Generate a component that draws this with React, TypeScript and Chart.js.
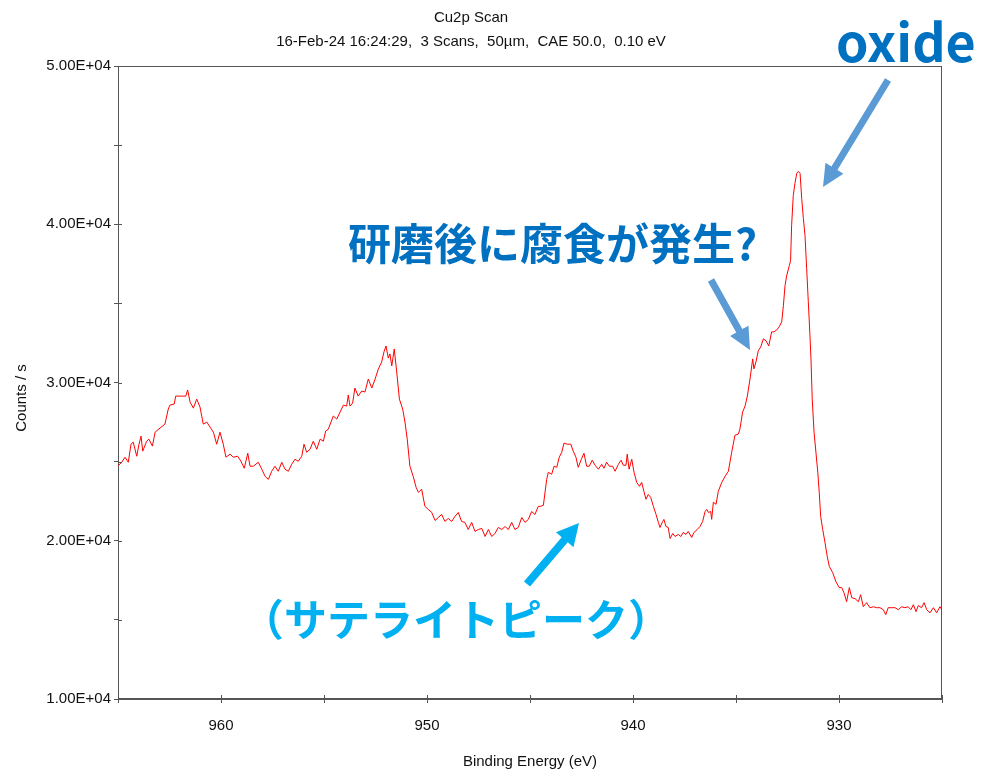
import React, { useEffect, useRef } from 'react';
import { Chart, registerables } from 'chart.js';
Chart.register(...registerables);

// Binding energy (eV)
const energies = [
  965.00, 964.82, 964.66, 964.50, 964.37, 964.26, 964.09, 963.98, 963.88, 963.80,
  963.61, 963.50, 963.33, 963.20, 962.96, 962.72, 962.56, 962.48, 962.27, 962.20,
  961.91, 961.71, 961.62, 961.50, 961.34, 961.18, 961.02, 960.86, 960.69, 960.53,
  960.37, 960.21, 960.05, 959.89, 959.76, 959.56, 959.40, 959.19, 959.03, 958.87,
  958.70, 958.59, 958.43, 958.19, 958.02, 957.86, 957.70, 957.54, 957.38, 957.22,
  957.05, 956.89, 956.73, 956.57, 956.41, 956.25, 956.08, 955.97, 955.84, 955.68,
  955.52, 955.35, 955.19, 955.03, 954.92, 954.79, 954.55, 954.38, 954.22, 954.06,
  953.90, 953.82, 953.74, 953.61, 953.50, 953.34, 953.17, 953.01, 952.85, 952.68,
  952.52, 952.36, 952.20, 952.09, 951.99, 951.88, 951.80, 951.71, 951.59, 951.47,
  951.34, 951.18, 951.07, 950.96, 950.83, 950.67, 950.53, 950.42, 950.26, 950.10,
  949.94, 949.77, 949.61, 949.45, 949.29, 949.13, 948.97, 948.80, 948.64, 948.48,
  948.32, 948.16, 948.00, 947.83, 947.67, 947.51, 947.34, 947.18, 947.02, 946.86,
  946.70, 946.54, 946.37, 946.21, 946.05, 945.89, 945.73, 945.57, 945.40, 945.24,
  945.08, 944.92, 944.76, 944.60, 944.51, 944.35, 944.19, 944.11, 943.95, 943.83,
  943.70, 943.58, 943.46, 943.35, 943.19, 943.02, 942.90, 942.77, 942.66, 942.49,
  942.38, 942.25, 942.12, 941.98, 941.84, 941.68, 941.52, 941.41, 941.28, 941.15,
  940.99, 940.87, 940.71, 940.58, 940.47, 940.34, 940.28, 940.19, 940.06, 939.95,
  939.82, 939.69, 939.58, 939.47, 939.37, 939.26, 939.14, 939.01, 938.88, 938.77,
  938.69, 938.56, 938.50, 938.40, 938.29, 938.20, 938.07, 937.96, 937.80, 937.68,
  937.56, 937.43, 937.32, 937.15, 937.04, 936.88, 936.75, 936.62, 936.50, 936.42,
  936.34, 936.23, 936.18, 936.10, 935.97, 935.86, 935.69, 935.53, 935.37, 935.21,
  935.05, 934.89, 934.81, 934.68, 934.56, 934.45, 934.32, 934.19, 934.13, 934.03,
  933.92, 933.80, 933.67, 933.54, 933.41, 933.27, 933.16, 933.02, 932.90, 932.78,
  932.70, 932.62, 932.54, 932.41, 932.35, 932.30, 932.22, 932.14, 932.05, 931.98,
  931.89, 931.81, 931.73, 931.65, 931.57, 931.49, 931.41, 931.36, 931.30, 931.21,
  931.12, 931.03, 930.96, 930.89, 930.79, 930.68, 930.57, 930.47, 930.31, 930.15,
  929.99, 929.87, 929.76, 929.63, 929.50, 929.38, 929.22, 929.06, 928.95, 928.82,
  928.66, 928.50, 928.33, 928.17, 928.01, 927.85, 927.73, 927.61, 927.44, 927.28,
  927.12, 926.96, 926.80, 926.64, 926.51, 926.39, 926.26, 926.15, 925.99, 925.87,
  925.74, 925.58, 925.42, 925.26, 925.10, 925.00,
];

// Counts / s
const counts = [
  24730, 24960, 25280, 24960, 26100, 26230, 25340, 26100, 26610, 25660,
  26290, 26420, 25980, 26860, 27120, 27370, 28320, 28570, 28640, 29140,
  29140, 29140, 29530, 28760, 28380, 28950, 28450, 27370, 27500, 27180,
  26860, 26100, 26860, 26100, 25280, 25470, 25280, 25340, 25020, 24580,
  25530, 24710, 24710, 24960, 24520, 24070, 23880, 24390, 24710, 24390,
  24960, 24520, 24390, 24830, 25150, 25020, 25340, 26100, 25590, 25780,
  26290, 25780, 26420, 26290, 26930, 27050, 27880, 27690, 28130, 28570,
  28510, 29210, 28510, 28700, 29650, 29140, 29460, 29400, 30220, 29650,
  30220, 30860, 31300, 31930, 32310, 31550, 31810, 31050, 32120, 30670,
  28950, 28320, 27500, 26420, 24710, 24070, 23380, 23060, 23250, 22170,
  21980, 21790, 21280, 21470, 21660, 21220, 21410, 21220, 21540, 21790,
  21220, 21160, 20710, 21160, 20590, 20710, 20780, 20270, 20710, 20270,
  20460, 20840, 20710, 20900, 20710, 21160, 20710, 20840, 21470, 21160,
  21350, 21850, 21660, 22170, 22170, 22240, 23880, 24330, 24200, 24710,
  24640, 25280, 25590, 26170, 26100, 26100, 25660, 25280, 24640, 25210,
  25530, 24710, 24710, 25090, 24770, 24520, 24830, 24580, 24960, 24710,
  24710, 24390, 24830, 25090, 24770, 24770, 25470, 24520, 25150, 24330,
  23690, 23440, 23690, 23120, 22620, 22930, 22740, 22170, 21660, 21160,
  20840, 21220, 21350, 20900, 20840, 20140, 20460, 20270, 20400, 20270,
  20520, 20400, 20590, 20210, 20520, 20710, 20900, 21220, 21850, 21980,
  21790, 21850, 21350, 22430, 22300, 23120, 23690, 24070, 24390, 25590,
  26670, 26740, 27050, 28130, 28510, 29140, 30220, 31490, 30860, 31300,
  32000, 32250, 32760, 32630, 32310, 33200, 33200, 33330, 33520, 33840,
  34850, 36120, 36750, 37390, 37700, 39920, 41820, 42580, 43220, 43340,
  43220, 41630, 40360, 39290, 37200, 35100, 32950, 31490, 28950, 26860,
  25590, 24330, 23060, 21540, 20710, 19890, 19000, 18370, 17990, 17420,
  17040, 17040, 16720, 16150, 17040, 16400, 16340, 16150, 16590, 15830,
  16090, 15770, 15830, 15770, 15770, 15640, 15330, 15770, 15770, 15770,
  15640, 15830, 15770, 15830, 15640, 15960, 15520, 15900, 15770, 16090,
  15640, 15450, 15770, 15450, 15830, 15640,
];

const xTickLabels = [960, 950, 940, 930];
const yTickLabels = [10000, 20000, 30000, 40000, 50000];

const titleText = 'Cu2p Scan';
const subtitleText = '16-Feb-24 16:24:29,  3 Scans,  50µm,  CAE 50.0,  0.10 eV';
const xTitle = 'Binding Energy (eV)';
const yTitle = 'Counts / s';
const oxideText = 'oxide';
const corrosionText = '研磨後に腐食が発生?';
const satelliteText = '（サテライトピーク）';

const AXIS_FONT = '"Liberation Sans", Arial, sans-serif';
const JP_FONT = '"Noto Sans CJK JP", "Noto Sans", sans-serif';

function sci(v: number): string {
  const e = Math.floor(Math.log10(v) + 1e-9);
  const m = v / Math.pow(10, e);
  return m.toFixed(2) + 'E' + (e >= 0 ? '+' : '-') + String(Math.abs(e)).padStart(2, '0');
}

function arrow(ctx: CanvasRenderingContext2D, x1: number, y1: number, x2: number, y2: number,
  w: number, hw: number, hl: number, color: string) {
  const dx = x2 - x1, dy = y2 - y1;
  const L = Math.hypot(dx, dy);
  const ux = dx / L, uy = dy / L;
  const nx = -uy, ny = ux;
  const bx = x2 - ux * hl, by = y2 - uy * hl;
  ctx.beginPath();
  ctx.moveTo(x1 + nx * w / 2, y1 + ny * w / 2);
  ctx.lineTo(bx + nx * w / 2, by + ny * w / 2);
  ctx.lineTo(bx + nx * hw / 2, by + ny * hw / 2);
  ctx.lineTo(x2, y2);
  ctx.lineTo(bx - nx * hw / 2, by - ny * hw / 2);
  ctx.lineTo(bx - nx * w / 2, by - ny * w / 2);
  ctx.lineTo(x1 - nx * w / 2, y1 - ny * w / 2);
  ctx.closePath();
  ctx.fillStyle = color;
  ctx.fill();
}

const decor = {
  id: 'decor',
  beforeDatasetsDraw(chart: any) {
    const { ctx, chartArea: a, scales } = chart;
    ctx.save();
    ctx.strokeStyle = '#555';
    ctx.lineWidth = 1;
    ctx.strokeRect(Math.round(a.left) + 0.5, Math.round(a.top) + 0.5,
      Math.round(a.right - a.left) - 1, Math.round(a.bottom - a.top) - 1);
    ctx.beginPath();
    scales.x.ticks.forEach((t: any) => {
      const px = Math.round(scales.x.getPixelForValue(t.value)) + 0.5;
      ctx.moveTo(px, a.bottom);
      ctx.lineTo(px, a.bottom - 4);
    });
    scales.y.ticks.forEach((t: any) => {
      const py = Math.round(scales.y.getPixelForValue(t.value)) + 0.5;
      ctx.moveTo(a.left, py);
      ctx.lineTo(a.left + 4, py);
    });
    ctx.stroke();
    ctx.restore();
  },
  afterDraw(chart: any) {
    const { ctx, chartArea: a } = chart;
    ctx.save();
    // titles
    ctx.fillStyle = '#111';
    ctx.font = `15px ${AXIS_FONT}`;
    ctx.textAlign = 'center';
    ctx.textBaseline = 'middle';
    ctx.fillText(titleText, 471, 18);
    ctx.fillText(subtitleText, 471, 42);
    ctx.fillText(xTitle, (a.left + a.right) / 2, 762);
    ctx.save();
    ctx.translate(22, 398);
    ctx.rotate(-Math.PI / 2);
    ctx.fillText(yTitle, 0, 0);
    ctx.restore();

    // annotations
    ctx.textAlign = 'left';
    ctx.textBaseline = 'alphabetic';
    ctx.fillStyle = '#0070C0';
    ctx.font = `bold 52px ${JP_FONT}`;
    ctx.fillText(oxideText, 836, 62);

    ctx.textBaseline = 'middle';
    ctx.font = `bold 43px ${JP_FONT}`;
    ctx.fillText(corrosionText, 348, 244);

    ctx.fillStyle = '#00B0F0';
    ctx.textAlign = 'center';
    ctx.fillText(satelliteText, 456, 620);

    arrow(ctx, 888, 80, 823, 187, 7, 21, 22, '#5B9BD5');
    arrow(ctx, 711, 280, 750, 350, 7, 21, 22, '#5B9BD5');
    arrow(ctx, 527, 584, 579, 523, 8, 23, 22, '#00B0F0');
    ctx.restore();
  },
};

export default function App() {
  const ref = useRef<HTMLCanvasElement | null>(null);
  useEffect(() => {
    if (!ref.current) return;
    const tickFont = { family: AXIS_FONT, size: 15 };
    const chart = new Chart(ref.current, {
      type: 'line',
      data: {
        datasets: [{
          data: energies.map((e, i) => ({ x: e, y: counts[i] })),
          borderColor: '#ff0000',
          borderWidth: 1,
          pointRadius: 0,
          tension: 0,
          fill: false,
        }],
      },
      options: {
        responsive: false,
        animation: false,
        layout: { padding: { left: 0, top: 66, right: 42, bottom: 0 } },
        plugins: {
          legend: { display: false },
          tooltip: { enabled: false },
          title: { display: false },
        },
        scales: {
          x: {
            type: 'linear',
            reverse: true,
            min: 925,
            max: 965,
            afterFit: (s: any) => { s.height = 75; },
            grid: { display: true, drawOnChartArea: false, drawTicks: true, tickLength: 4, color: '#555' },
            border: { display: true, color: '#555' },
            ticks: {
              stepSize: 5,
              autoSkip: false,
              maxRotation: 0,
              padding: 14,
              color: '#111',
              font: tickFont,
              callback: (v: any) => (xTickLabels.includes(Number(v)) ? String(v) : ''),
            },
          },
          y: {
            type: 'linear',
            min: 10000,
            max: 50000,
            afterFit: (s: any) => { s.width = 118; },
            grid: { display: true, drawOnChartArea: false, drawTicks: true, tickLength: 4, color: '#555' },
            border: { display: true, color: '#555' },
            ticks: {
              stepSize: 5000,
              autoSkip: false,
              padding: 3,
              color: '#111',
              font: tickFont,
              callback: (v: any) => (yTickLabels.includes(Number(v)) ? sci(Number(v)) : ''),
            },
          },
        },
      },
      plugins: [decor],
    } as any);
    return () => chart.destroy();
  }, []);
  return (
    <canvas
      ref={ref}
      width={984}
      height={774}
      style={{ position: 'absolute', left: 0, top: 0, width: 984, height: 774 }}
    />
  );
}
